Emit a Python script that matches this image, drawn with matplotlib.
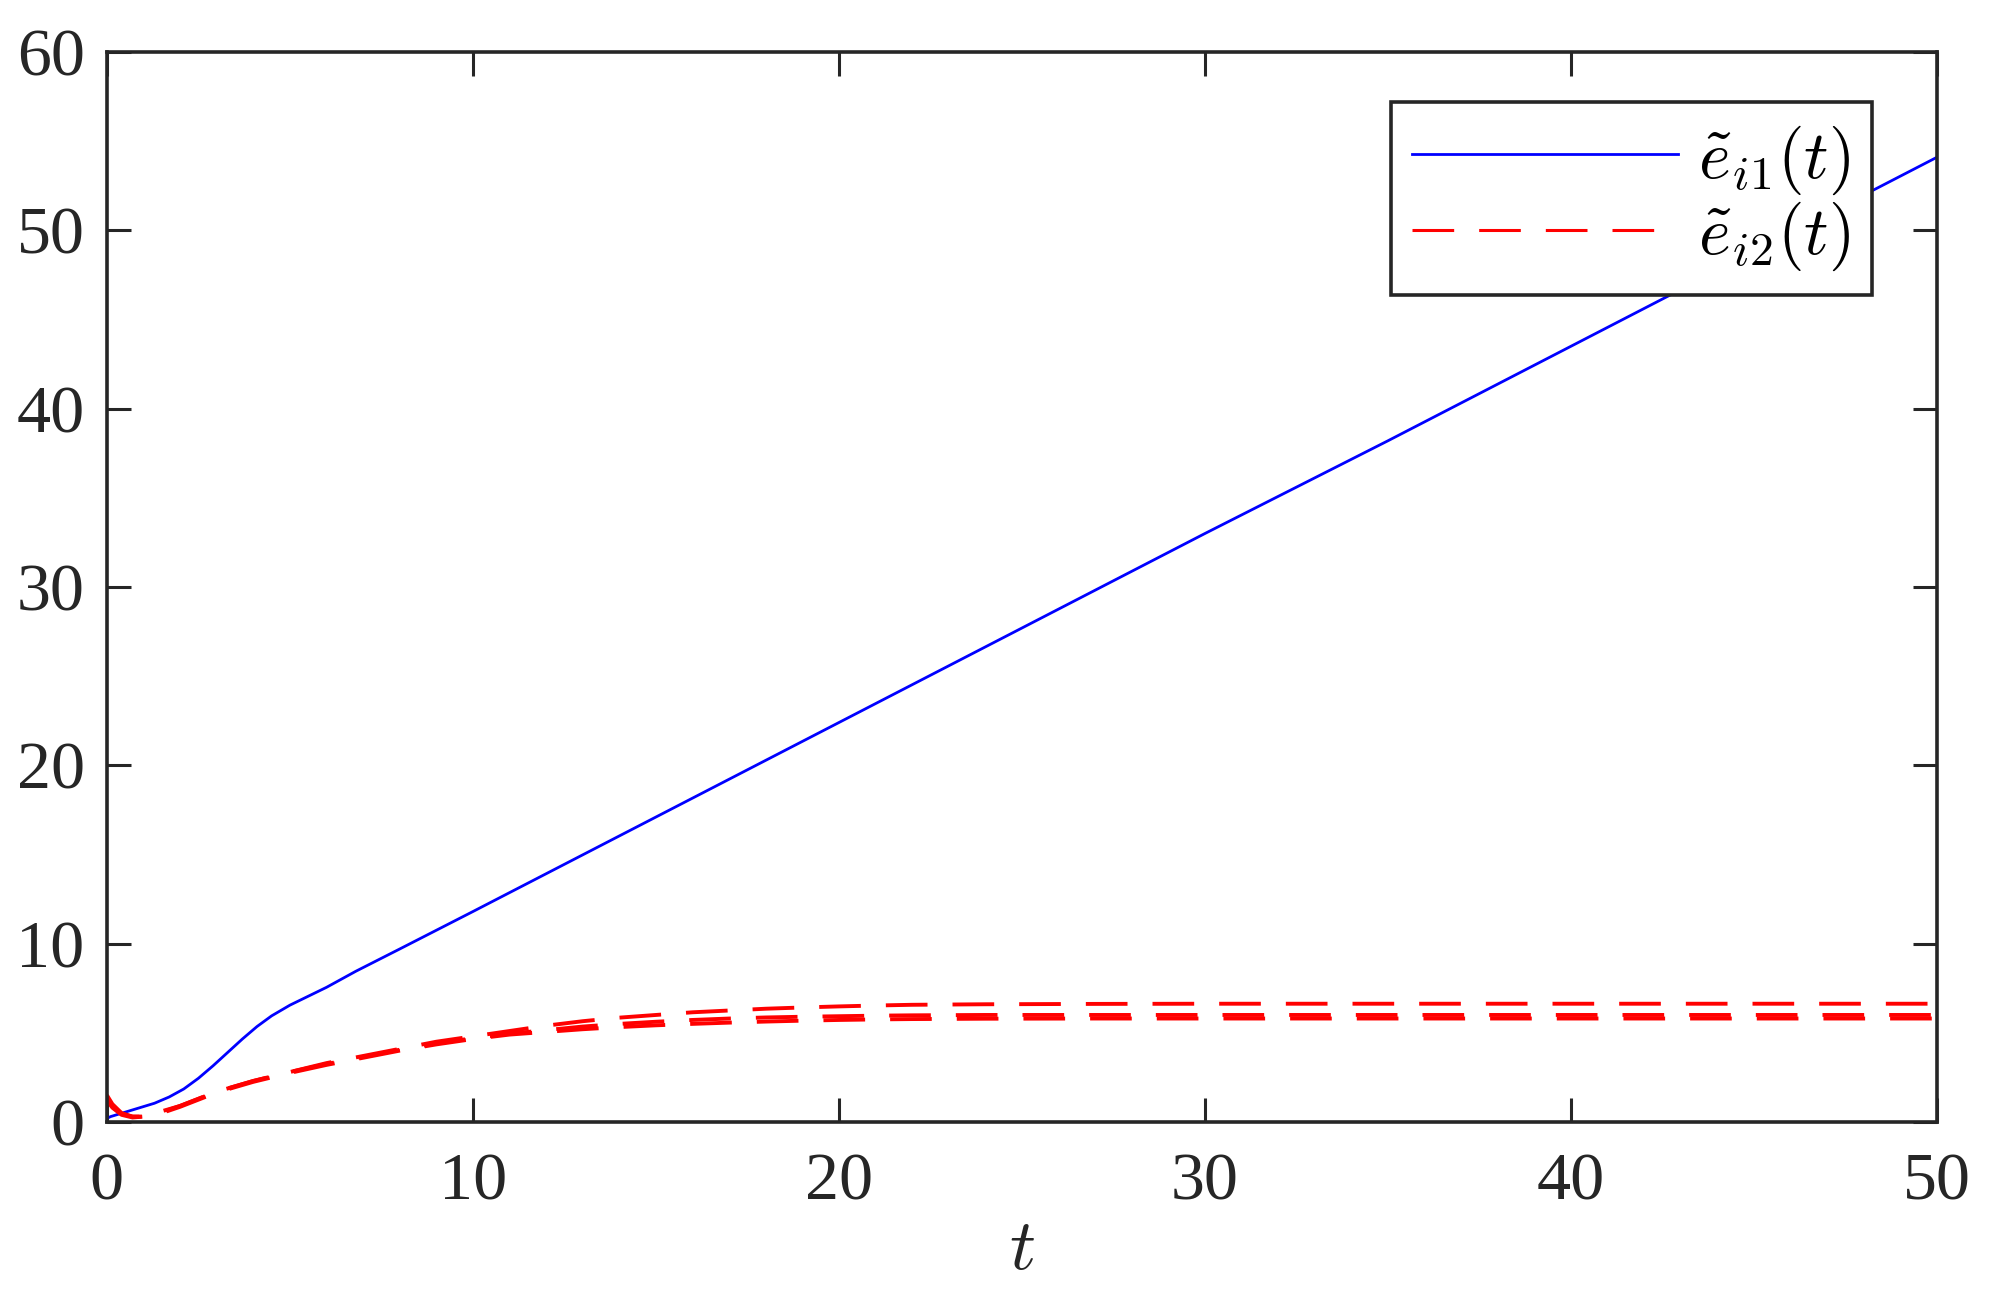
import numpy as np
import matplotlib
matplotlib.use("Agg")
import matplotlib.pyplot as plt

# ---------------------------------------------------------------------------
# Data
# ---------------------------------------------------------------------------
t_blue = [0, 0.1, 0.5, 0.9, 1.3, 1.7, 2.1, 2.5, 2.9, 3.3, 3.7, 4.1, 4.5, 5.0,
          5.5, 6.0, 6.8, 8.0, 10, 15, 20, 25, 30, 35, 40, 45, 50]
e_i1 = [0.2, 0.3, 0.55, 0.8, 1.05, 1.4, 1.85, 2.45, 3.15, 3.9, 4.65, 5.35,
        5.95, 6.55, 7.05, 7.55, 8.45, 9.7, 11.8, 17.1, 22.4, 27.7, 33.0, 38.2,
        43.5, 48.8, 54.1]

t_red = [0, 0.15, 0.4, 0.7, 1.0, 1.5, 2.0, 2.5, 3.0, 4.0, 5.0, 6.0, 7.0, 8.0,
         9.0, 10, 11, 12, 13, 14, 15, 16, 17, 18, 19, 20, 21, 22, 24, 27,
         30, 35, 40, 45, 50]
e_i2_a = [1.5, 1.0, 0.5, 0.3, 0.3, 0.6, 0.9, 1.3, 1.7, 2.3, 2.8, 3.3, 3.7,
          4.1, 4.5, 4.8, 5.1, 5.4, 5.65, 5.85, 6.0, 6.15, 6.25, 6.35, 6.42,
          6.48, 6.53, 6.57, 6.6, 6.62, 6.63, 6.63, 6.63, 6.63, 6.63]
e_i2_b = [1.3, 0.9, 0.45, 0.3, 0.3, 0.55, 0.9, 1.3, 1.7, 2.3, 2.8, 3.25, 3.65,
          4.05, 4.4, 4.7, 4.95, 5.15, 5.35, 5.5, 5.62, 5.72, 5.8, 5.86, 5.9,
          5.93, 5.96, 5.98, 6.0, 6.0, 6.0, 6.0, 6.0, 6.0, 6.0]
e_i2_c = [1.2, 0.8, 0.4, 0.25, 0.3, 0.5, 0.85, 1.25, 1.65, 2.25, 2.75, 3.2,
          3.6, 4.0, 4.35, 4.65, 4.9, 5.05, 5.2, 5.32, 5.42, 5.5, 5.57, 5.63,
          5.68, 5.72, 5.75, 5.77, 5.79, 5.8, 5.8, 5.8, 5.8, 5.8, 5.8]

x_ticks = [0, 10, 20, 30, 40, 50]
y_ticks = [0, 10, 20, 30, 40, 50, 60]

# ---------------------------------------------------------------------------
# Style (MATLAB-like look)
# ---------------------------------------------------------------------------
plt.rcParams["font.family"] = ["Liberation Serif", "DejaVu Serif"]
plt.rcParams["mathtext.fontset"] = "cm"
plt.rcParams["lines.scale_dashes"] = False

axis_col = "#262626"
dash = (30, 18)

fig = plt.figure(figsize=(19.91, 13.13), dpi=100)
ax = fig.add_axes([0.0537, 0.1455, 0.9192, 0.8149])

ax.plot(t_blue, e_i1, color="#0000FF", linewidth=2.0, label=r"$\tilde{e}_{i1}(t)$")
ax.plot(t_red, e_i2_a, color="#FF0000", linewidth=2.8, linestyle=(0, dash),
        label=r"$\tilde{e}_{i2}(t)$")
ax.plot(t_red, e_i2_b, color="#FF0000", linewidth=2.8, linestyle=(0, dash))
ax.plot(t_red, e_i2_c, color="#FF0000", linewidth=2.8, linestyle=(0, dash))

ax.set_xlim(0, 50)
ax.set_ylim(0, 60)
ax.set_xticks(x_ticks)
ax.set_yticks(y_ticks)
ax.tick_params(direction="in", length=17, width=2.2, color=axis_col,
               labelsize=49, labelcolor=axis_col, top=True, right=True)
ax.tick_params(axis="x", pad=22)
ax.tick_params(axis="y", pad=16)
for sp in ax.spines.values():
    sp.set_linewidth(2.6)
    sp.set_color(axis_col)

ax.set_xlabel(r"$t$", fontsize=52, labelpad=4, color=axis_col)

leg = ax.legend(loc="upper right", bbox_to_anchor=(0.9645, 0.953),
                borderaxespad=0, fontsize=49, handlelength=3.9,
                handletextpad=0.3, borderpad=0.32, labelspacing=0.04,
                fancybox=False, framealpha=1, edgecolor=axis_col)
leg.get_frame().set_linewidth(2.6)
leg.get_lines()[1].set_linewidth(2.2)

fig.savefig("out.png", dpi=100)
